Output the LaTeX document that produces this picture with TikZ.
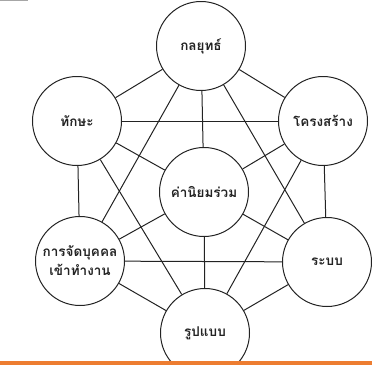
\documentclass[tikz,border=0pt]{standalone}
\usepackage{fontspec}
\newfontfamily\thaifont[Script=Thai]{Loma}
\definecolor{barorange}{RGB}{237,125,49}
\definecolor{ink}{RGB}{35,35,35}
\usetikzlibrary{calc}

\begin{document}
\begin{tikzpicture}[x=1pt,y=-1pt,
    elem/.style={circle,draw=ink,line width=1pt,fill=white,minimum size=89pt,inner sep=0pt,
      align=center,text=ink,font=\thaifont\bfseries\fontsize{13.5}{19}\selectfont},
    link/.style={draw=ink,line width=1pt}]
  \useasboundingbox (0,0) rectangle (372,375);
  % the seven elements
  \node[elem] (strategy)  at (201,46)  {กลยุทธ์};
  \node[elem] (skills)    at (77,121)  {ทักษะ};
  \node[elem] (structure) at (323,121) {โครงสร้าง};
  \node[elem] (values)    at (204,192) {ค่านิยมร่วม};
  \node[elem] (staff)     at (80,261)  {การจัดบุคคล\\เข้าทำงาน};
  \node[elem] (systems)   at (327,262) {ระบบ};
  \node[elem] (style)     at (205,333) {รูปแบบ};
  % every pair is linked
  \foreach \a/\b in {strategy/skills,strategy/structure,strategy/values,strategy/staff,strategy/systems,
      skills/structure,skills/values,skills/staff,skills/style,
      structure/values,structure/systems,structure/style,
      values/staff,values/systems,values/style,
      staff/systems,staff/style,systems/style}
    \draw[link] (\a) -- (\b);
  % bottom rule
  \fill[white] (0,361) rectangle (372,375);
  \fill[barorange] (0,361) rectangle (372,365);
  \draw[gray!70,line width=0.8pt] (0,0.4) -- (28,0.4);
\end{tikzpicture}
\end{document}
